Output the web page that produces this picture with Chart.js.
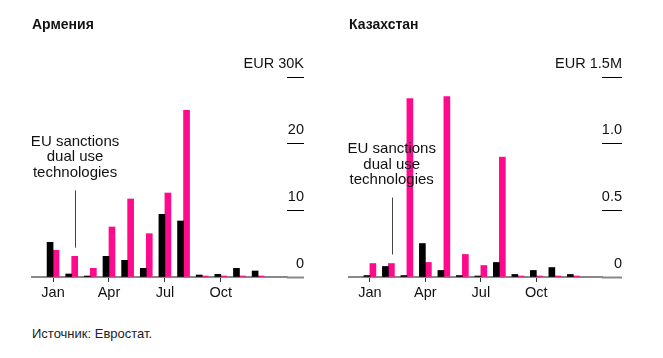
<!DOCTYPE html>
<html>
<head>
<meta charset="utf-8">
<script src="https://cdn.jsdelivr.net/npm/chart.js@4"></script>
<style>
  body { margin: 0; background: #fff; font-family: "Liberation Sans", Arial, sans-serif; }
  #wrap { position: relative; width: 663px; height: 358px; overflow: hidden; }
  canvas { position: absolute; top: 0; }
  .title { position: absolute; top: 16px; font-weight: bold; font-size: 14px; color: #111; }
  .source { position: absolute; left: 32px; top: 326px; font-size: 13px; color: #222; }
</style>
</head>
<body>
<div id="wrap">
  <canvas id="armChart" width="330" height="320" style="left:0"></canvas>
  <canvas id="kazChart" width="333" height="320" style="left:330px"></canvas>
  <div class="title" style="left:32px">Армения</div>
  <div class="title" style="left:349px">Казахстан</div>
  <div class="source">Источник: Евростат.</div>
</div>
<script>
// Месяцы (категории)
const months = ["Jan", "Feb", "Mar", "Apr", "May", "Jun", "Jul", "Aug", "Sep", "Oct", "Nov", "Dec"];
const monthTicks = [0, 3, 6, 9]; // подписи только для Jan, Apr, Jul, Oct

// Армения, тыс. EUR
const armBlack = [5.2, 0.45, 0.1, 3.1, 2.5, 1.3, 9.4, 8.4, 0.3, 0.4, 1.3, 0.9];
const armPink = [4.0, 3.1, 1.3, 7.5, 11.7, 6.5, 12.6, 25.0, 0, 0, 0, 0];
const armYTicks = ["0", "10", "20", "EUR 30K"];

// Казахстан, млн EUR
const kazBlack = [0.011, 0.079, 0.011, 0.251, 0.049, 0.011, 0.004, 0.109, 0.019, 0.049, 0.071, 0.019];
const kazPink = [0.101, 0.101, 1.339, 0.109, 1.354, 0.169, 0.086, 0.899, 0, 0, 0, 0];
const kazYTicks = ["0", "0.5", "1.0", "EUR 1.5M"];

// Аннотация: [позиция месяца, низ линии, верх линии]
const annotationText = ["EU sanctions", "dual use", "technologies"];
const armAnnotation = [1.18, 4.4, 13.0];
const kazAnnotation = [1.18, 0.169, 0.596];

const FONT = "'Liberation Sans', Arial, sans-serif";
const PINK = "#ff0a8c";

// Плагин для линии и текста аннотации
const annotationPlugin = {
  id: "sanctionNote",
  afterDatasetsDraw(chart, args, opts) {
    const x = chart.scales.x.getPixelForValue(opts.at[0]);
    const yBottom = chart.scales.y.getPixelForValue(opts.at[1]);
    const yTop = chart.scales.y.getPixelForValue(opts.at[2]);
    const ctx = chart.ctx;
    ctx.save();
    ctx.strokeStyle = "#444";
    ctx.lineWidth = 1;
    ctx.beginPath();
    ctx.moveTo(Math.round(x) + 0.5, yTop);
    ctx.lineTo(Math.round(x) + 0.5, yBottom);
    ctx.stroke();
    ctx.fillStyle = "#111";
    ctx.font = "15px " + FONT;
    ctx.textAlign = "center";
    ctx.textBaseline = "middle";
    const n = annotationText.length;
    annotationText.forEach((line, i) => {
      ctx.fillText(line, x, yTop - 17.5 - (n - 1 - i) * 15.5);
    });
    ctx.restore();
  },
};

function makeChart(id, black, pink, yMax, yStep, yLabels, tickLen, padding, note) {
  const ctx = document.getElementById(id).getContext("2d");
  return new Chart(ctx, {
    type: "bar",
    data: {
      datasets: [
        {
          label: "2022",
          data: black.map((v, i) => ({ x: i, y: v })),
          backgroundColor: "#000",
        },
        {
          label: "2023",
          data: pink.map((v, i) => ({ x: i, y: v })),
          backgroundColor: PINK,
        },
      ],
    },
    options: {
      responsive: false,
      animation: false,
      layout: { padding: padding },
      datasets: { bar: { barThickness: 6, minBarLength: 1, borderWidth: 0 } },
      plugins: {
        legend: { display: false },
        tooltip: { enabled: false },
        sanctionNote: { at: note },
      },
      scales: {
        x: {
          type: "linear",
          min: -1.13,
          max: 12.55,
          offset: false,
          afterBuildTicks: (scale) => {
            scale.ticks = monthTicks.map((v) => ({ value: v }));
          },
          afterFit: (scale) => {
            scale.height = 30;
          },
          grid: {
            offset: false,
            drawOnChartArea: false,
            drawTicks: true,
            tickLength: 5,
            tickColor: "#333",
            tickWidth: 1,
          },
          border: { display: true, color: "#888", width: 2 },
          ticks: {
            autoSkip: false,
            maxRotation: 0,
            padding: 2,
            color: "#111",
            font: { family: FONT, size: 14.5 },
            callback: (v) => months[v],
          },
        },
        y: {
          position: "right",
          min: 0,
          max: yMax,
          afterFit: (scale) => {
            scale.width = tickLen;
          },
          grid: {
            drawOnChartArea: false,
            drawTicks: true,
            tickLength: tickLen,
            tickColor: (c) => (c.tick && c.tick.value === 0 ? "#888" : "#000"),
            tickWidth: (c) => (c.tick && c.tick.value === 0 ? 2 : 1),
          },
          border: { display: false },
          ticks: {
            stepSize: yStep,
            mirror: true,
            padding: tickLen,
            labelOffset: -13.5,
            color: "#111",
            font: { family: FONT, size: 14.5 },
            callback: (v, i) => yLabels[i],
          },
        },
      },
    },
    plugins: [annotationPlugin],
  });
}

makeChart("armChart", armBlack, armPink, 30, 10, armYTicks, 17,
  { left: 32, right: 26, top: 77, bottom: 13 }, armAnnotation);
makeChart("kazChart", kazBlack, kazPink, 1.5, 0.5, kazYTicks, 20,
  { left: 19, right: 41, top: 77, bottom: 13 }, kazAnnotation);
</script>
</body>
</html>
